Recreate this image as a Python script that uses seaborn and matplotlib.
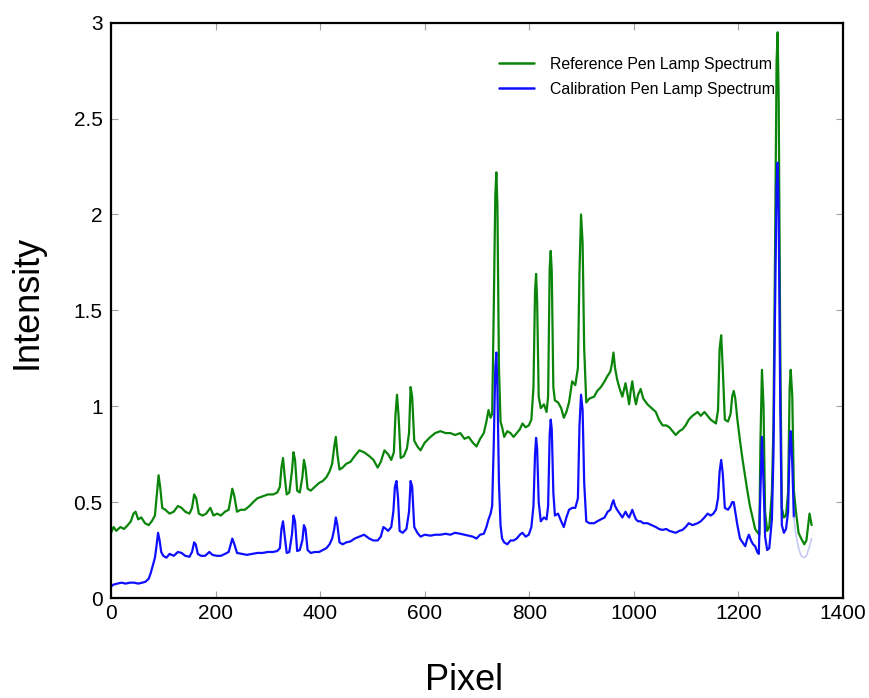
import matplotlib
matplotlib.use("Agg")
import matplotlib.pyplot as plt
import seaborn as sns
import pandas as pd
from matplotlib.ticker import FuncFormatter

# ---------------- data ----------------
ref_pixel = [0, 5, 10, 18, 25, 32, 38, 43, 47, 52, 58, 65, 72, 78, 84, 88, 91, 94, 98, 104,
             112, 120, 128, 135, 142, 150, 155, 159, 163, 168, 175, 182, 190, 196, 203, 210, 218, 225, 229, 232,
             236, 241, 248, 256, 265, 272, 280, 290, 300, 310, 318, 323, 326, 329, 332, 336, 341, 346, 349, 352,
             356, 361, 366, 369, 372, 376, 382, 390, 398, 405, 412, 418, 423, 427, 430, 433, 437, 443, 450, 458,
             466, 475, 484, 494, 502, 510, 516, 523, 530, 536, 541, 544, 547, 550, 554, 560, 566, 570, 573, 576,
             580, 586, 592, 600, 611, 620, 630, 640, 649, 658, 668, 676, 684, 692, 699, 706, 713, 718, 722, 726,
             729, 732, 735, 737, 739, 742, 745, 748, 752, 758, 764, 770, 776, 782, 787, 793, 799, 804, 808, 811,
             813, 815, 818, 822, 828, 833, 836, 839, 841, 843, 846, 849, 855, 861, 866, 871, 876, 882, 888, 893,
             896, 899, 902, 905, 909, 915, 924, 930, 937, 944, 950, 955, 958, 961, 964, 968, 973, 978, 984, 988,
             991, 994, 997, 1001, 1004, 1008, 1013, 1018, 1026, 1034, 1042, 1048, 1055, 1062, 1068, 1074, 1080, 1087, 1093, 1099,
             1105, 1112, 1122, 1128, 1135, 1141, 1147, 1152, 1157, 1161, 1164, 1167, 1170, 1174, 1180, 1185, 1188, 1191, 1194, 1198,
             1203, 1208, 1213, 1217, 1222, 1227, 1232, 1237, 1240, 1242, 1245, 1248, 1251, 1255, 1259, 1264, 1267, 1270, 1273, 1275,
             1277, 1280, 1283, 1287, 1291, 1295, 1298, 1300, 1303, 1306, 1310, 1315, 1320, 1326, 1330, 1333, 1336, 1340]
ref_intensity = [0.34, 0.37, 0.35, 0.37, 0.36, 0.38, 0.40, 0.44, 0.45, 0.41, 0.42, 0.39, 0.38, 0.40, 0.43, 0.55, 0.64, 0.58, 0.47, 0.46,
                 0.44, 0.45, 0.48, 0.47, 0.45, 0.44, 0.47, 0.54, 0.52, 0.44, 0.43, 0.44, 0.47, 0.43, 0.44, 0.43, 0.45, 0.46, 0.52, 0.57,
                 0.53, 0.45, 0.46, 0.46, 0.48, 0.50, 0.52, 0.53, 0.54, 0.54, 0.55, 0.58, 0.68, 0.73, 0.64, 0.54, 0.55, 0.66, 0.76, 0.72,
                 0.56, 0.55, 0.63, 0.72, 0.68, 0.57, 0.56, 0.58, 0.60, 0.61, 0.63, 0.66, 0.70, 0.79, 0.84, 0.75, 0.67, 0.68, 0.70, 0.71,
                 0.74, 0.77, 0.76, 0.74, 0.72, 0.68, 0.71, 0.77, 0.75, 0.72, 0.76, 0.95, 1.06, 0.95, 0.73, 0.74, 0.78, 0.86, 1.10, 1.05,
                 0.82, 0.79, 0.77, 0.81, 0.84, 0.86, 0.87, 0.86, 0.86, 0.85, 0.86, 0.83, 0.84, 0.81, 0.79, 0.83, 0.86, 0.92, 0.98, 0.94,
                 0.96, 1.50, 2.10, 2.22, 2.05, 1.20, 0.92, 0.89, 0.84, 0.87, 0.86, 0.84, 0.86, 0.88, 0.91, 0.89, 0.90, 0.93, 1.10, 1.60,
                 1.69, 1.55, 1.05, 0.99, 1.01, 0.97, 1.05, 1.72, 1.81, 1.70, 1.10, 1.03, 1.02, 0.99, 0.94, 0.97, 1.02, 1.13, 1.11, 1.20,
                 1.70, 2.00, 1.85, 1.30, 1.02, 1.04, 1.05, 1.08, 1.10, 1.13, 1.16, 1.18, 1.22, 1.28, 1.20, 1.14, 1.09, 1.05, 1.12, 1.06,
                 1.01, 1.08, 1.13, 1.05, 1.01, 1.06, 1.09, 1.04, 1.01, 0.99, 0.97, 0.93, 0.90, 0.90, 0.89, 0.87, 0.85, 0.87, 0.88, 0.90,
                 0.93, 0.95, 0.97, 0.95, 0.97, 0.95, 0.93, 0.92, 0.91, 0.98, 1.30, 1.37, 1.20, 0.93, 0.92, 0.96, 1.05, 1.08, 1.04, 0.93,
                 0.82, 0.72, 0.63, 0.56, 0.48, 0.42, 0.36, 0.34, 0.33, 0.80, 1.19, 1.00, 0.45, 0.35, 0.37, 0.55, 0.90, 1.80, 2.80, 2.95,
                 2.60, 1.30, 0.47, 0.42, 0.43, 0.55, 1.10, 1.19, 1.05, 0.56, 0.45, 0.34, 0.31, 0.28, 0.30, 0.37, 0.44, 0.38]

cal_pixel = [0, 5, 12, 20, 28, 36, 44, 52, 60, 66, 72, 76, 80, 84, 87, 90, 93, 96, 100, 106,
             112, 120, 128, 135, 142, 150, 155, 159, 162, 166, 172, 180, 188, 194, 202, 210, 218, 225, 229, 232,
             236, 241, 250, 260, 270, 280, 290, 300, 310, 318, 323, 326, 329, 332, 336, 341, 346, 349, 352, 356,
             361, 366, 369, 372, 376, 382, 390, 398, 405, 412, 418, 423, 427, 430, 433, 437, 443, 450, 458, 466,
             475, 484, 494, 502, 510, 516, 521, 526, 530, 536, 540, 543, 546, 549, 552, 558, 565, 570, 573, 576,
             580, 586, 592, 600, 611, 620, 630, 640, 649, 658, 668, 676, 684, 692, 699, 706, 713, 718, 722, 726,
             729, 732, 735, 737, 739, 742, 745, 748, 752, 758, 764, 770, 776, 782, 787, 793, 799, 804, 808, 811,
             813, 815, 818, 822, 828, 833, 836, 839, 841, 843, 846, 849, 855, 861, 866, 871, 876, 882, 888, 893,
             896, 899, 902, 905, 909, 915, 924, 930, 937, 944, 950, 955, 958, 961, 964, 968, 973, 978, 984, 988,
             991, 994, 997, 1001, 1004, 1008, 1013, 1018, 1026, 1034, 1042, 1048, 1055, 1062, 1068, 1074, 1080, 1087, 1093, 1099,
             1105, 1112, 1122, 1128, 1135, 1141, 1147, 1152, 1157, 1161, 1164, 1167, 1170, 1174, 1180, 1185, 1188, 1191, 1194, 1198,
             1203, 1208, 1213, 1217, 1220, 1224, 1228, 1232, 1236, 1239, 1242, 1245, 1248, 1251, 1255, 1259, 1264, 1267, 1270, 1273,
             1275, 1277, 1280, 1283, 1287, 1291, 1295, 1298, 1300, 1303, 1306]
cal_intensity = [0.06, 0.07, 0.075, 0.08, 0.075, 0.08, 0.08, 0.075, 0.08, 0.085, 0.10, 0.13, 0.17, 0.21, 0.27, 0.34, 0.30, 0.24, 0.22, 0.21,
                 0.23, 0.22, 0.24, 0.235, 0.22, 0.215, 0.24, 0.29, 0.28, 0.23, 0.22, 0.22, 0.24, 0.225, 0.22, 0.22, 0.23, 0.24, 0.28, 0.31,
                 0.28, 0.235, 0.23, 0.225, 0.23, 0.235, 0.235, 0.24, 0.24, 0.245, 0.26, 0.36, 0.40, 0.33, 0.235, 0.24, 0.33, 0.43, 0.40, 0.245,
                 0.25, 0.30, 0.38, 0.36, 0.25, 0.235, 0.24, 0.24, 0.25, 0.26, 0.28, 0.31, 0.36, 0.42, 0.38, 0.29, 0.28, 0.29, 0.295, 0.31,
                 0.32, 0.33, 0.31, 0.30, 0.30, 0.32, 0.37, 0.36, 0.35, 0.37, 0.45, 0.58, 0.61, 0.52, 0.35, 0.34, 0.36, 0.45, 0.61, 0.58,
                 0.37, 0.34, 0.32, 0.33, 0.325, 0.33, 0.33, 0.335, 0.33, 0.34, 0.335, 0.33, 0.325, 0.32, 0.31, 0.33, 0.335, 0.37, 0.41, 0.44,
                 0.48, 0.80, 1.20, 1.28, 1.10, 0.60, 0.38, 0.31, 0.29, 0.28, 0.30, 0.30, 0.31, 0.33, 0.34, 0.32, 0.33, 0.37, 0.48, 0.75,
                 0.835, 0.78, 0.50, 0.40, 0.42, 0.41, 0.48, 0.85, 0.93, 0.88, 0.55, 0.43, 0.44, 0.40, 0.37, 0.42, 0.46, 0.47, 0.47, 0.52,
                 0.90, 1.06, 0.98, 0.60, 0.40, 0.39, 0.39, 0.40, 0.41, 0.42, 0.45, 0.46, 0.49, 0.51, 0.48, 0.46, 0.44, 0.42, 0.45, 0.43,
                 0.42, 0.44, 0.46, 0.43, 0.41, 0.40, 0.40, 0.39, 0.39, 0.38, 0.37, 0.36, 0.355, 0.36, 0.35, 0.345, 0.34, 0.35, 0.355, 0.37,
                 0.39, 0.38, 0.39, 0.40, 0.42, 0.44, 0.43, 0.44, 0.46, 0.52, 0.66, 0.72, 0.65, 0.47, 0.46, 0.48, 0.50, 0.50, 0.45, 0.38,
                 0.31, 0.29, 0.27, 0.31, 0.33, 0.30, 0.28, 0.27, 0.24, 0.23, 0.55, 0.84, 0.60, 0.32, 0.25, 0.26, 0.41, 0.75, 1.50, 2.15,
                 2.27, 2.00, 1.00, 0.38, 0.34, 0.36, 0.45, 0.80, 0.87, 0.70, 0.42]

# faint tail of the calibration trace
cal_tail_pixel = [1306, 1310, 1315, 1320, 1326, 1330, 1335, 1340]
cal_tail_intensity = [0.42, 0.33, 0.26, 0.22, 0.21, 0.22, 0.26, 0.31]

series_names = ["Reference Pen Lamp Spectrum", "Calibration Pen Lamp Spectrum"]
x_ticks = [0, 200, 400, 600, 800, 1000, 1200, 1400]
y_ticks = [0, 0.5, 1, 1.5, 2, 2.5, 3]

# ---------------- figure ----------------
sns.set_theme(style="white")
plt.rcParams["font.family"] = ["Liberation Sans", "DejaVu Sans"]
plt.rcParams["text.color"] = "black"
plt.rcParams["axes.labelcolor"] = "black"

fig = plt.figure(figsize=(8.69, 6.98), dpi=100)
ax = fig.add_axes([111 / 869, 1 - 598 / 698, (843 - 111) / 869, (598 - 22.7) / 698])

df = pd.concat([
    pd.DataFrame({"Pixel": ref_pixel, "Intensity": ref_intensity, "series": series_names[0]}),
    pd.DataFrame({"Pixel": cal_pixel, "Intensity": cal_intensity, "series": series_names[1]}),
], ignore_index=True)

sns.lineplot(data=df, x="Pixel", y="Intensity", hue="series", hue_order=series_names,
             palette=["#0a850a", "#0f0fff"], sort=False, estimator=None,
             linewidth=1.6, ax=ax)
sns.lineplot(x=cal_tail_pixel, y=cal_tail_intensity, color="#c7c9f5", sort=False,
             estimator=None, linewidth=1.2, legend=False, ax=ax)

ax.set_xlim(0, 1400)
ax.set_ylim(0, 3)
ax.set_xticks(x_ticks)
ax.set_yticks(y_ticks)
ax.yaxis.set_major_formatter(FuncFormatter(lambda v, p: f"{v:g}"))

ax.tick_params(axis="both", which="major", direction="in", length=5, width=0.8,
               color="#a0a0a0", labelsize=15, labelcolor="black",
               top=True, right=True, bottom=True, left=True)
ax.tick_params(axis="x", pad=4)
ax.tick_params(axis="y", pad=6)

for sp in ax.spines.values():
    sp.set_visible(True)
    sp.set_color("black")
    sp.set_linewidth(1.6)

ax.set_xlabel("Pixel", fontsize=26, color="black")
ax.set_ylabel("Intensity", fontsize=26, color="black")
ax.xaxis.set_label_coords(0.482, -0.113)
ax.yaxis.set_label_coords(-0.09, 0.515)

leg = ax.legend(loc="upper left", bbox_to_anchor=(0.511, 0.966), frameon=False,
                fontsize=11.4, handlelength=2.2, handletextpad=1.0, labelspacing=0.66)
for line in leg.get_lines():
    line.set_linewidth(1.8)
for t in leg.get_texts():
    t.set_color("black")

fig.savefig("out.png", dpi=100)
